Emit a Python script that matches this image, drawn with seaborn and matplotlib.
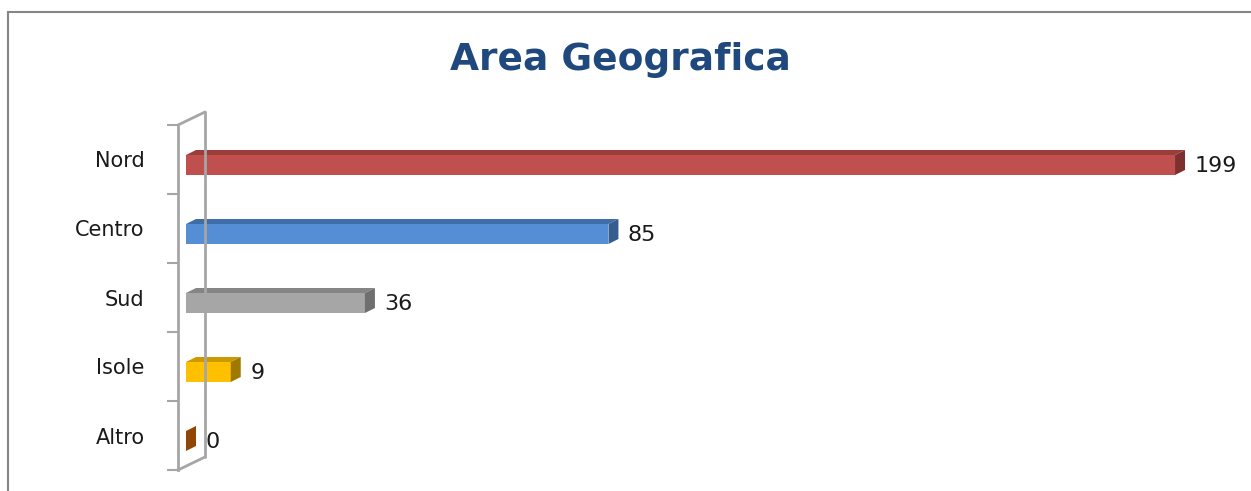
import numpy as np
import pandas as pd
import matplotlib
matplotlib.use("Agg")
import matplotlib.pyplot as plt
from matplotlib.patches import Polygon, Rectangle
from matplotlib.lines import Line2D
import seaborn as sns

# data
categories = ['Nord', 'Centro', 'Sud', 'Isole', 'Altro']
counts = [199, 85, 36, 9, 0]
front_colors = ['#C0504D', '#558ED5', '#A6A6A6', '#FFC000', '#984807']
top_colors = ['#9B3D3B', '#3F6DA8', '#858585', '#CC9A00', '#8A4006']
side_colors = ['#7E302E', '#365D90', '#6F6F6F', '#A07A00', '#924606']

df = pd.DataFrame({'area': categories, 'count': counts})

sns.set_style('white')
plt.rcParams['font.family'] = ['DejaVu Sans']

fig = plt.figure(figsize=(12.51, 4.91), dpi=100)
W, H = 1251, 491

# axes: left spine = front edge of the wall
ax_left, ax_right = 178, 1251
ax_top, ax_bot = 125, 470
ax = fig.add_axes([ax_left / W, 1 - ax_bot / H, (ax_right - ax_left) / W, (ax_bot - ax_top) / H])

bar_w = 0.29
sns.barplot(data=df, x='count', y='area', hue='area', palette=front_colors,
            orient='h', width=bar_w, legend=False, ax=ax, saturation=1,
            linewidth=0)

px_per_unit = 4.97
x0_px = 186
ax.set_xlim(-(x0_px - ax_left) / px_per_unit, (ax_right - x0_px) / px_per_unit)
ax.set_ylim(4.5, -0.5)

ax_h = ax_bot - ax_top
cat_px = ax_h / 5.0
shift = 5.5 / cat_px          # bars sit a bit lower than the wall centre
dx = 10 / px_per_unit         # depth of the 3d look
dy = 5 / cat_px

for i, p in enumerate(ax.patches[:len(counts)]):
    p.set_y(p.get_y() + shift)
    x0 = p.get_x()
    x1 = x0 + p.get_width()
    yt = p.get_y()
    yb = yt + p.get_height()
    top = Polygon([(x0, yt), (x1, yt), (x1 + dx, yt - dy), (x0 + dx, yt - dy)],
                  closed=True, facecolor=top_colors[i], edgecolor='none')
    side = Polygon([(x1, yt), (x1 + dx, yt - dy), (x1 + dx, yb - dy), (x1, yb)],
                   closed=True, facecolor=side_colors[i], edgecolor='none')
    ax.add_patch(top)
    ax.add_patch(side)
    ax.annotate(str(counts[i]), xy=(x1, (yt + yb) / 2), xytext=(14, -1),
                textcoords='offset points', va='center', ha='left',
                fontsize=16, color='#1a1a1a')

# wall
wall_c = '#A6A6A6'
wx = 27 / (ax_right - ax_left)
wy = 13 / ax_h
for xs, ys in [([wx, wx], [wy, 1 + wy]), ([0, wx], [1, 1 + wy]), ([0, wx], [0, wy])]:
    ax.add_line(Line2D(xs, ys, transform=ax.transAxes, color=wall_c, lw=2, clip_on=False))

for s in ['top', 'right', 'bottom']:
    ax.spines[s].set_visible(False)
ax.spines['left'].set_color(wall_c)
ax.spines['left'].set_linewidth(2)

ax.set_xticks([])
ax.set_yticks(np.arange(-0.5, 5, 1), minor=True)
ax.tick_params(axis='y', which='minor', length=8, width=1.5, color=wall_c, direction='out', left=True)
ax.tick_params(axis='y', which='major', length=0, pad=24, labelsize=15, labelcolor='#1a1a1a')
ax.set_xlabel('')
ax.set_ylabel('')

fig.text(620 / W, 1 - 60 / H, 'Area Geografica', ha='center', va='center',
         fontsize=27, fontweight='bold', color='#1F497D')

# chart border
fig.patches.append(Rectangle((8 / W, -0.2), 2, 1 - 12 / H + 0.2, transform=fig.transFigure,
                             fill=False, edgecolor='#868686', linewidth=1.5))

fig.savefig('out.png', dpi=100)
